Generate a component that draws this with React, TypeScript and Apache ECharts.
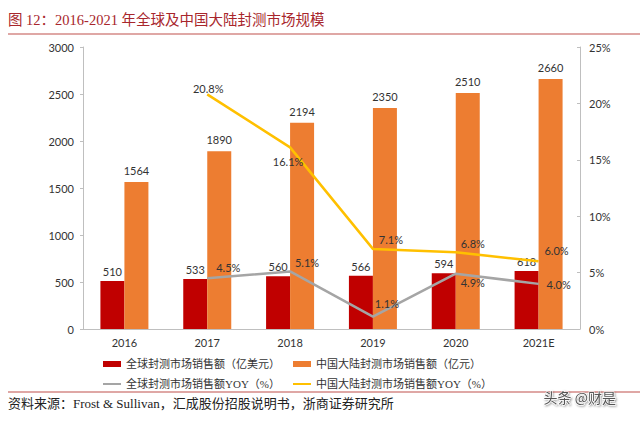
import React, { useEffect, useRef } from "react";
import * as echarts from "echarts";

const categories = ["2016", "2017", "2018", "2019", "2020", "2021E"];
const globalSales = [510, 533, 560, 566, 594, 618];
const chinaSales = [1564, 1890, 2194, 2350, 2510, 2660];
const globalYoy: (number | null)[] = [null, 4.5, 5.1, 1.1, 4.9, 4.0];
const chinaYoy: (number | null)[] = [null, 20.8, 16.1, 7.1, 6.8, 6.0];
const leftTicks = { min: 0, max: 3000, interval: 500 };
const rightTicks = { min: 0, max: 25, interval: 5 };

const names = {
  globalSales: "全球封测市场销售额（亿美元）",
  chinaSales: "中国大陆封测市场销售额（亿元）",
  globalYoy: "全球封测市场销售额YOY（%）",
  chinaYoy: "中国大陆封测市场销售额YOY（%）",
};

const titleText = "图 12：2016-2021 年全球及中国大陆封测市场规模";
const sourceText = "资料来源：Frost & Sullivan，汇成股份招股说明书，浙商证券研究所";
const watermark = "头条 @财是";

const NUM_FONT = "Lato, 'Noto Sans CJK SC', sans-serif";
const CJK_FONT = "'Liberation Serif', 'Noto Sans CJK SC', serif";

// label placements per point (position, offset)
const grayLabelPos: any[] = [null, ["top", [21, 0]], ["top", [17, 2]], ["top", [14, -3]], ["bottom", [17, -2]], ["right", [3, 1]]];
const yellowLabelPos: any[] = [null, ["top", [1, 5]], ["bottom", [-2, 4]], ["top", [18, 1]], ["top", [17, 2]], ["top", [18, 0]]];

export default function App() {
  const ref = useRef<HTMLDivElement>(null);
  useEffect(() => {
    document.body.style.margin = "0";
    const chart = echarts.init(ref.current!, null, { renderer: "svg" });
    const lineData = (vals: (number | null)[], pos: any[]) =>
      vals.map((v, i) =>
        v == null
          ? null
          : {
              value: v,
              label: { position: pos[i][0], offset: pos[i][1] },
            }
      );
    const lineIcon = "path://M0,0H18V2H0Z";
    const legendCommon = {
      orient: "vertical" as const,
      padding: 0,
      itemWidth: 18,
      itemHeight: 6,
      itemGap: 6,
      textStyle: { fontSize: 11, color: "#333", fontFamily: CJK_FONT, lineHeight: 14 },
    };
    chart.setOption({
      animation: false,
      backgroundColor: "#fff",
      grid: { left: 83, right: 60, top: 47, bottom: 92 },
      legend: [
        {
          ...legendCommon,
          left: 103,
          top: 357,
          data: [
            { name: names.globalSales, icon: "rect" },
            { name: names.globalYoy, icon: lineIcon },
          ],
        },
        {
          ...legendCommon,
          left: 293,
          top: 357,
          data: [
            { name: names.chinaSales, icon: "rect" },
            { name: names.chinaYoy, icon: lineIcon },
          ],
        },
      ],
      xAxis: {
        type: "category",
        data: categories,
        axisLine: { lineStyle: { color: "#BFBFBF" } },
        axisTick: { inside: true, length: 4, lineStyle: { color: "#BFBFBF" } },
        axisLabel: { color: "#333", fontSize: 11, fontFamily: NUM_FONT, margin: 8 },
      },
      yAxis: [
        {
          type: "value",
          ...leftTicks,
          axisLine: { show: true, lineStyle: { color: "#BFBFBF" } },
          axisTick: { show: true, length: 3, lineStyle: { color: "#BFBFBF" } },
          splitLine: { show: false },
          axisLabel: { color: "#333", fontSize: 11, fontFamily: NUM_FONT, margin: 9, formatter: (v: number) => `${v}` },
        },
        {
          type: "value",
          ...rightTicks,
          axisLine: { show: true, lineStyle: { color: "#BFBFBF" } },
          axisTick: { show: true, inside: true, length: 3, lineStyle: { color: "#BFBFBF" } },
          splitLine: { show: false },
          axisLabel: { color: "#333", fontSize: 11, fontFamily: NUM_FONT, margin: 9, formatter: (v: number) => `${v}%` },
        },
      ],
      series: [
        {
          name: names.globalSales,
          type: "bar",
          data: globalSales,
          barWidth: 24,
          barGap: "0%",
          itemStyle: { color: "#C00000" },
          label: { show: true, position: "top", distance: 4, color: "#333", fontSize: 11, fontFamily: NUM_FONT },
        },
        {
          name: names.chinaSales,
          type: "bar",
          data: chinaSales,
          barWidth: 24,
          barGap: "0%",
          itemStyle: { color: "#ED7D31" },
          label: { show: true, position: "top", distance: 6, color: "#333", fontSize: 11, fontFamily: NUM_FONT },
        },
        {
          name: names.globalYoy,
          type: "line",
          yAxisIndex: 1,
          data: lineData(globalYoy, grayLabelPos),
          showSymbol: true,
          symbol: "circle",
          symbolSize: 0,
          legendIcon: lineIcon,
          lineStyle: { color: "#A5A5A5", width: 2.5 },
          itemStyle: { color: "#A5A5A5" },
          label: { show: true, color: "#333", fontSize: 11, fontFamily: NUM_FONT, formatter: (p: any) => `${p.value.toFixed(1)}%` },
          z: 3,
        },
        {
          name: names.chinaYoy,
          type: "line",
          yAxisIndex: 1,
          data: lineData(chinaYoy, yellowLabelPos),
          showSymbol: true,
          symbol: "circle",
          symbolSize: 0,
          legendIcon: lineIcon,
          lineStyle: { color: "#FFC000", width: 2.5 },
          itemStyle: { color: "#FFC000" },
          label: { show: true, color: "#333", fontSize: 11, fontFamily: NUM_FONT, formatter: (p: any) => `${p.value.toFixed(1)}%` },
          z: 3,
        },
      ],
      graphic: [
        {
          type: "text",
          left: 8,
          top: 13,
          style: { text: titleText, fill: "#A8262C", fontSize: 14.5, fontFamily: CJK_FONT },
        },
        {
          type: "line",
          shape: { x1: 8, y1: 34, x2: 640, y2: 34 },
          style: { stroke: "#C0504D", lineWidth: 1.2 },
        },
        {
          type: "line",
          shape: { x1: 8, y1: 392, x2: 640, y2: 392 },
          style: { stroke: "#C0504D", lineWidth: 1.2 },
        },
        {
          type: "text",
          left: 8,
          top: 397,
          style: { text: sourceText, fill: "#222", fontSize: 13, fontFamily: CJK_FONT },
        },
        {
          type: "text",
          left: 543,
          top: 389,
          style: {
            text: watermark,
            fill: "#555",
            fontSize: 14,
            fontFamily: "'Noto Sans CJK SC', sans-serif",
            stroke: "#fff",
            lineWidth: 1,
            textShadowColor: "rgba(0,0,0,0.4)",
            textShadowBlur: 2,
            textShadowOffsetX: 1,
            textShadowOffsetY: 1,
          },
        },
      ],
    });
    return () => chart.dispose();
  }, []);
  return <div ref={ref} style={{ width: 640, height: 421 }} />;
}
